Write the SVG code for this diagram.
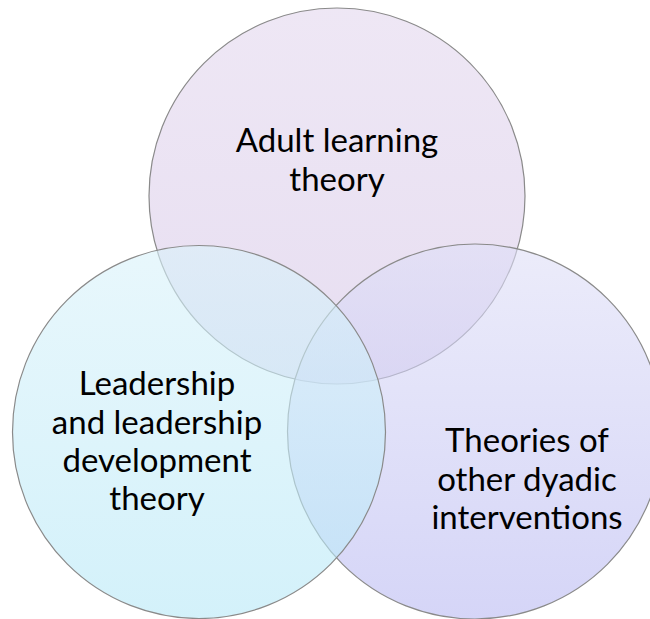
<svg xmlns="http://www.w3.org/2000/svg" width="650" height="619" viewBox="0 0 650 619">
<defs>
<linearGradient id="gTop" x1="0" y1="0" x2="0" y2="1">
<stop offset="0" stop-color="rgb(227,215,238)"/>
<stop offset="1" stop-color="rgb(215,200,232)"/>
</linearGradient>
<linearGradient id="gLeft" x1="0" y1="0" x2="0" y2="1">
<stop offset="0" stop-color="rgb(217,242,250)"/>
<stop offset="1" stop-color="rgb(182,232,247)"/>
</linearGradient>
<linearGradient id="gRight" x1="0" y1="0" x2="0" y2="1">
<stop offset="0" stop-color="rgb(223,223,247)"/>
<stop offset="1" stop-color="rgb(185,185,242)"/>
</linearGradient>
</defs>
<style>
.c{fill-opacity:0.6;stroke:#8a8a8a;stroke-width:1.2}
.t{font-family:Lato,"Open Sans",sans-serif;font-size:33px;fill:#000;text-anchor:middle}
</style>
<rect width="650" height="619" fill="#fff"/>
<g id="adult">
<circle class="c" cx="337" cy="196" r="188" fill="url(#gTop)"/>
</g>
<g id="dyadic">
<circle class="c" cx="475" cy="431.5" r="187.5" fill="url(#gRight)"/>
</g>
<g id="leadership">
<circle class="c" cx="199" cy="432" r="186.5" fill="url(#gLeft)"/>
</g>
<g id="labels">
<text class="t" x="337" y="152">Adult learning</text>
<text class="t" x="337" y="191">theory</text>
<text class="t" x="157" y="395">Leadership</text>
<text class="t" x="157" y="434">and leadership</text>
<text class="t" x="157" y="472">development</text>
<text class="t" x="157" y="510">theory</text>
<text class="t" x="527" y="452">Theories of</text>
<text class="t" x="527" y="491">other dyadic</text>
<text class="t" x="527" y="529">interventions</text>
</g>
</svg>
